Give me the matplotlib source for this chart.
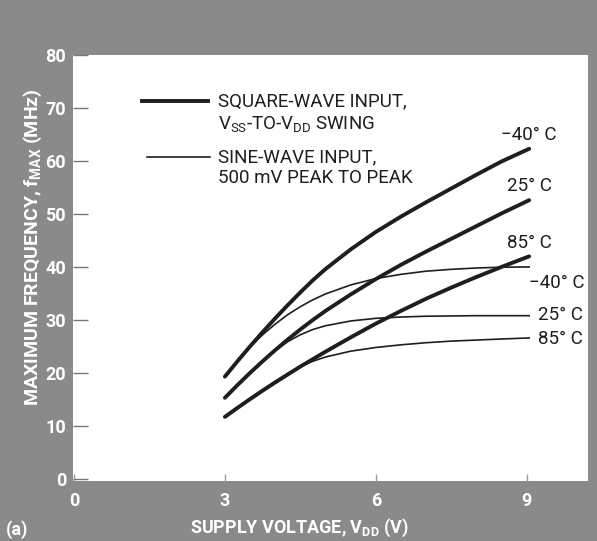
import matplotlib
matplotlib.use('Agg')
import matplotlib.pyplot as plt

# supply voltage (V)
volts = [3, 3.25, 3.5, 3.75, 4, 4.25, 4.5, 4.75, 5, 5.5, 6, 6.5, 7, 7.5, 8, 8.5, 9.05]

# square-wave input, Vss-to-Vdd swing (MHz)
sq_m40 = [19.3, 22.2, 25.0, 27.7, 30.3, 32.8, 35.2, 37.5, 39.6,
          43.3, 46.6, 49.5, 52.2, 54.8, 57.4, 59.9, 62.3]
sq_25 = [15.3, 17.7, 20.0, 22.2, 24.3, 26.3, 28.2, 30.0, 31.7,
         34.8, 37.7, 40.4, 42.9, 45.3, 47.7, 50.1, 52.6]
sq_85 = [11.7, 13.4, 15.05, 16.65, 18.2, 19.7, 21.2, 22.6, 24.0,
         26.7, 29.3, 31.7, 34.0, 36.1, 38.1, 40.0, 42.0]

# sine-wave input, 500 mV peak to peak (MHz)
sn_m40 = [19.3, 22.2, 24.9, 27.2, 29.2, 31.0, 32.5, 33.8, 34.9,
          36.6, 37.8, 38.6, 39.2, 39.55, 39.8, 39.95, 40.0]
sn_25 = [15.3, 17.7, 20.0, 22.2, 24.2, 25.9, 27.2, 28.2, 28.9,
         29.8, 30.3, 30.55, 30.7, 30.75, 30.8, 30.8, 30.8]
sn_85 = [11.7, 13.5, 15.2, 16.85, 18.4, 19.9, 21.2, 22.2, 23.0,
         24.1, 24.8, 25.3, 25.7, 26.0, 26.2, 26.4, 26.6]

temps = ['\u221240\u00b0 C', '25\u00b0 C', '85\u00b0 C']
xticks = [0, 3, 6, 9]
yticks = [0, 10, 20, 30, 40, 50, 60, 70, 80]

FONT = ['Roboto', 'DejaVu Sans']
INK = '#1e1e1e'
GRAY = '#8a8a8a'
FS = 13.5

plt.rcParams['font.family'] = FONT

fig = plt.figure(figsize=(5.97, 5.41), dpi=100, facecolor=GRAY)
# white plot box, in figure pixels: left 73, right 588, top 55, bottom 481
ax = fig.add_axes([73 / 597, (541 - 481) / 541, 515 / 597, 426 / 541])
ax.set_facecolor('white')
for s in ax.spines.values():
    s.set_visible(False)

for ys in (sq_m40, sq_25, sq_85):
    ax.plot(volts, ys, color=INK, lw=2.8, solid_capstyle='round',
            solid_joinstyle='round')
for ys in (sn_m40, sn_25, sn_85):
    ax.plot(volts, ys, color=INK, lw=1.2, solid_joinstyle='round')

ax.set_xlim(-0.02, 10.22)
ax.set_ylim(-0.4, 80)

ax.set_xticks(xticks)
ax.set_yticks(yticks)
ax.tick_params(axis='y', direction='in', length=11, width=1, color='#777777',
               pad=5, labelsize=13, labelcolor='white')
ax.tick_params(axis='x', direction='in', length=5, width=1, color='#999999',
               pad=8, labelsize=13, labelcolor='white')
for lab in ax.get_xticklabels() + ax.get_yticklabels():
    lab.set_fontweight('bold')

ax.set_xlabel('SUPPLY VOLTAGE, $\\mathregular{V_{DD}}$ (V)', color='white',
              fontsize=13, fontweight='bold')
ax.set_ylabel('MAXIMUM FREQUENCY, $\\mathregular{f_{MAX}}$ (MHz)', color='white',
              fontsize=14, fontweight='bold')
ax.xaxis.set_label_coords(0.44, -0.083)
ax.yaxis.set_label_coords(-0.056, 0.55)

# curve labels
for ys, t in zip((sq_m40, sq_25, sq_85), temps):
    ax.text(volts[-1], ys[-1] + 2.6, t, ha='center', va='center',
            fontsize=FS, color=INK)
sine_lab_dy = [-3.0, 0.1, -0.2]
for ys, t, dy in zip((sn_m40, sn_25, sn_85), temps, sine_lab_dy):
    ax.text(volts[-1] + (0.0 if dy < -1 else 0.17), ys[-1] + dy, t,
            ha='left', va='center', fontsize=FS, color=INK)

# key
ax.plot([1.35, 2.66], [71.3, 71.3], color=INK, lw=2.8)
ax.plot([1.45, 2.70], [60.75, 60.75], color=INK, lw=1.2)
ax.text(2.86, 71.3, 'SQUARE-WAVE INPUT,', fontsize=FS, color=INK, va='center')
ax.text(2.86, 67.0, '$\\mathregular{V_{SS}}$-TO-$\\mathregular{V_{DD}}$ SWING',
        fontsize=FS, color=INK, va='center')
ax.text(2.86, 60.75, 'SINE-WAVE INPUT,', fontsize=FS, color=INK, va='center')
ax.text(2.86, 56.8, '500 mV PEAK TO PEAK', fontsize=FS, color=INK, va='center')

fig.text(6 / 597, 1 - 530 / 541, '(a)', color='white', fontsize=13,
         fontweight='bold', va='center')

fig.savefig('out.png', dpi=100, facecolor=GRAY)
